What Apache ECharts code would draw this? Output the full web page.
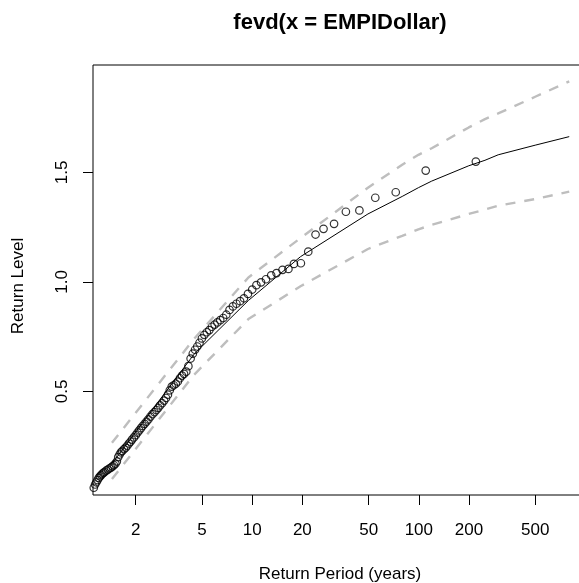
<!DOCTYPE html>
<html>
<head>
<meta charset="utf-8">
<title>fevd return level plot</title>
<script src="https://cdn.jsdelivr.net/npm/echarts@6/dist/echarts.min.js"></script>
<style>html,body{margin:0;padding:0;background:#fff}</style>
</head>
<body>
<div id="main" style="width:579px;height:583px;"></div>
<script>
// empirical return levels (period in years, level)
var obsPeriod = [1.12, 1.14, 1.16, 1.18, 1.20, 1.22, 1.24, 1.26, 1.28, 1.30,
  1.33, 1.36, 1.39, 1.42, 1.45, 1.48, 1.51, 1.54, 1.57, 1.60,
  1.63, 1.66, 1.70, 1.74, 1.78, 1.82, 1.86, 1.90, 1.95, 2.00,
  2.05, 2.10, 2.15, 2.20, 2.26, 2.32, 2.38, 2.45, 2.52, 2.59,
  2.66, 2.73, 2.80, 2.88, 2.96, 3.04, 3.12, 3.20, 3.29, 3.38,
  3.48, 3.58, 3.68, 3.79, 3.90, 4.02, 4.14, 4.27, 4.40, 4.54,
  4.68, 4.83, 4.99, 5.16, 5.34, 5.53, 5.73, 5.95, 6.18, 6.43,
  6.70, 6.99, 7.31, 7.66, 8.04, 8.46, 8.92, 9.43, 10.0, 10.6,
  11.3, 12.1, 13.0, 14.0, 15.2, 16.5, 17.8, 19.6, 21.7, 24.0,
  26.8, 31.0, 36.5, 44.0, 54.8, 72.7, 110, 220];
var obsLevel = [0.060, 0.075, 0.085, 0.095, 0.105, 0.112, 0.118, 0.124, 0.128, 0.132,
  0.138, 0.143, 0.148, 0.152, 0.158, 0.163, 0.170, 0.180, 0.200, 0.212,
  0.222, 0.228, 0.236, 0.243, 0.252, 0.262, 0.270, 0.280, 0.290, 0.300,
  0.312, 0.322, 0.332, 0.342, 0.352, 0.362, 0.372, 0.385, 0.396, 0.405,
  0.415, 0.425, 0.436, 0.446, 0.458, 0.470, 0.485, 0.505, 0.522, 0.528,
  0.535, 0.545, 0.560, 0.572, 0.580, 0.590, 0.615, 0.650, 0.672, 0.690,
  0.705, 0.722, 0.742, 0.758, 0.770, 0.780, 0.795, 0.805, 0.815, 0.825,
  0.835, 0.850, 0.872, 0.888, 0.900, 0.912, 0.925, 0.945, 0.965, 0.985,
  0.998, 1.012, 1.030, 1.040, 1.055, 1.059, 1.082, 1.085, 1.138, 1.216,
  1.242, 1.265, 1.320, 1.326, 1.384, 1.409, 1.508, 1.549];

// fitted return level curve and confidence bounds (x as plotted)
var rlPeriod = [1.44, 4.48, 9.49, 19.5, 49.5, 79.5, 99.5, 119.5, 199.5, 249.5, 299.5, 499.5, 799.5];
var rlFit   = [0.17, 0.67, 0.915, 1.115, 1.31, 1.39, 1.43, 1.46, 1.53, 1.555, 1.58, 1.624, 1.663];
var rlLower = [0.10, 0.576, 0.83, 0.98, 1.15, 1.21, 1.24, 1.26, 1.31, 1.33, 1.348, 1.378, 1.412];
var rlUpper = [0.265, 0.74, 1.02, 1.20, 1.43, 1.535, 1.58, 1.61, 1.705, 1.743, 1.769, 1.845, 1.915];

var xTicks = [2, 5, 10, 20, 50, 100, 200, 500];
var yTicks = [0.5, 1.0, 1.5];

function pairs(xs, ys) {
  var out = [];
  for (var i = 0; i < xs.length; i++) out.push([xs[i], ys[i]]);
  return out;
}

var myChart = echarts.init(document.getElementById('main'), null, {renderer: 'canvas'});
var font = 'Liberation Sans, Arial, sans-serif';
var ciStyle = {color: '#bebebe', width: 2.4, type: [10, 9]};

var option = {
  backgroundColor: '#fff',
  animation: false,
  title: {
    text: 'fevd(x = EMPIDollar)',
    left: 340,
    top: 12,
    padding: 0,
    textAlign: 'center',
    textStyle: {fontFamily: font, fontSize: 22, fontWeight: 'bold', color: '#000'}
  },
  grid: {
    left: 93, top: 65, width: 494, height: 430,
    outerBoundsMode: 'none',
    show: true, borderColor: '#000', borderWidth: 1, backgroundColor: 'transparent'
  },
  xAxis: {
    type: 'log', logBase: 10, min: 1.108, max: 1022,
    name: 'Return Period (years)',
    nameLocation: 'middle', nameGap: 71,
    nameTextStyle: {fontFamily: font, fontSize: 17, color: '#000'},
    axisLine: {show: false},
    axisTick: {show: true, length: 10, customValues: xTicks, lineStyle: {color: '#000'}},
    axisLabel: {customValues: xTicks, margin: 27, fontFamily: font, fontSize: 17, color: '#000'},
    splitLine: {show: false}
  },
  yAxis: {
    type: 'value', min: 0.027, max: 1.99,
    name: 'Return Level',
    nameLocation: 'middle', nameGap: 66,
    nameTextStyle: {fontFamily: font, fontSize: 17, color: '#000', padding: [0, 12, 0, 0]},
    axisLine: {show: false},
    axisTick: {show: true, length: 10, customValues: yTicks, lineStyle: {color: '#000'}},
    axisLabel: {
      customValues: yTicks, rotate: 90, margin: 22,
      fontFamily: font, fontSize: 17, color: '#000',
      formatter: function (v) { return v.toFixed(1); }
    },
    splitLine: {show: false}
  },
  series: [
    {
      type: 'scatter',
      data: pairs(obsPeriod, obsLevel),
      symbol: 'circle',
      symbolSize: 7.5,
      itemStyle: {color: 'transparent', borderColor: '#000', borderWidth: 1.2},
      clip: true
    },
    {
      type: 'line', data: pairs(rlPeriod, rlFit),
      symbol: 'none', lineStyle: {color: '#000', width: 1}
    },
    {
      type: 'line', data: pairs(rlPeriod, rlLower),
      symbol: 'none', lineStyle: ciStyle
    },
    {
      type: 'line', data: pairs(rlPeriod, rlUpper),
      symbol: 'none', lineStyle: ciStyle
    }
  ]
};

myChart.setOption(option);
</script>
</body>
</html>
